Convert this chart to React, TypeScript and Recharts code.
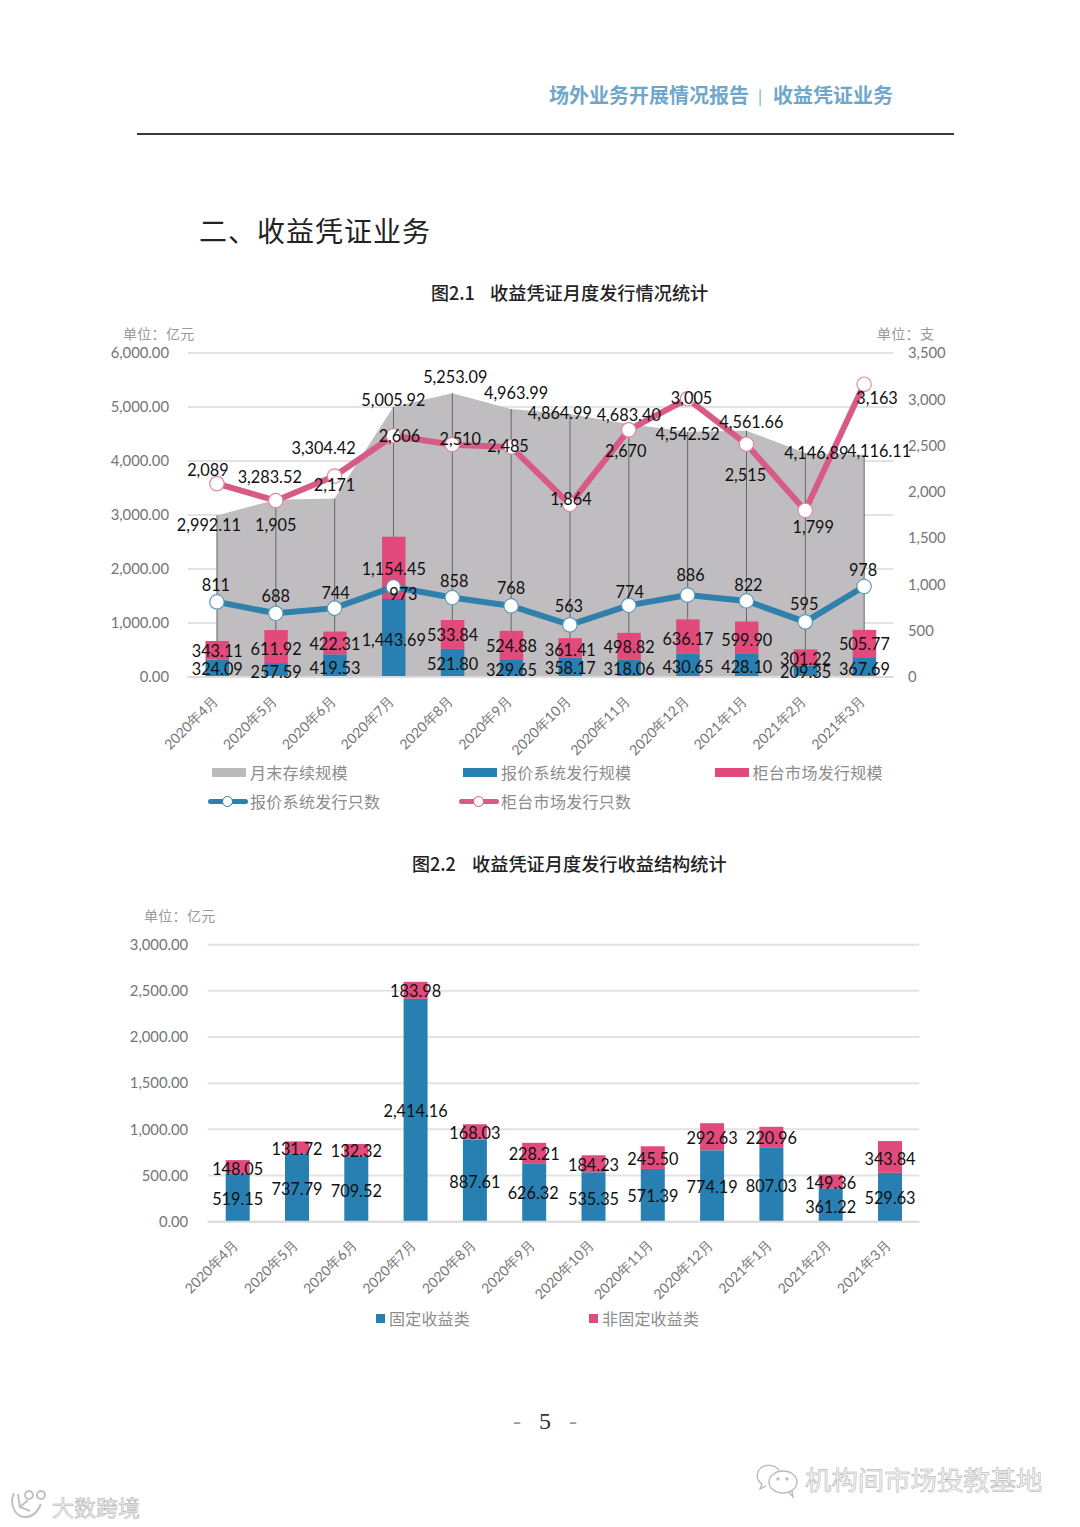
import { Area, Bar, CartesianGrid, ComposedChart, LabelList, Legend, Line, XAxis, YAxis } from 'recharts'

const months = ['2020年4月', '2020年5月', '2020年6月', '2020年7月', '2020年8月', '2020年9月', '2020年10月', '2020年11月', '2020年12月', '2021年1月', '2021年2月', '2021年3月']

// fig 2.1
const stockScale = [2992.11, 3283.52, 3304.42, 5005.92, 5253.09, 4963.99, 4864.99, 4683.4, 4542.52, 4561.66, 4146.89, 4116.11]
const quoteScale = [324.09, 257.59, 419.53, 1443.69, 521.8, 329.65, 358.17, 318.06, 430.65, 428.1, 209.35, 367.69]
const counterScale = [343.11, 611.92, 422.31, 1154.45, 533.84, 524.88, 361.41, 498.82, 636.17, 599.9, 301.22, 505.77]
const quoteCount = [811, 688, 744, 973, 858, 768, 563, 774, 886, 822, 595, 978]
const counterCount = [2089, 1905, 2171, 2606, 2510, 2485, 1864, 2670, 3005, 2515, 1799, 3163]
const leftTicks = [0, 1000, 2000, 3000, 4000, 5000, 6000]
const rightTicks = [0, 500, 1000, 1500, 2000, 2500, 3000, 3500]

// fig 2.2
const fixedIncome = [519.15, 737.79, 709.52, 2414.16, 887.61, 626.32, 535.35, 571.39, 774.19, 807.03, 361.22, 529.63]
const nonFixedIncome = [148.05, 131.72, 132.32, 183.98, 168.03, 228.21, 184.23, 245.5, 292.63, 220.96, 149.36, 343.84]
const yieldTicks = [0, 500, 1000, 1500, 2000, 2500, 3000]

const issueTable = months.map((month, i) => ({
  month,
  stock: stockScale[i],
  quote: quoteScale[i],
  counter: counterScale[i],
  quoteCount: quoteCount[i],
  counterCount: counterCount[i],
}))

const yieldTable = months.map((month, i) => ({
  month,
  fixed: fixedIncome[i],
  nonFixed: nonFixedIncome[i],
}))

// hand placed label nudges, [dx, dy] from the mark, like the source's dragged labels
const stockNudge = [[-8, 9], [-6, -23], [-11, -51], [0, -7], [3, -17], [5, -16], [-10, -2], [0, -10], [0, 2], [5, -9], [11, -1], [15, -4]]
const counterCountNudge = [[-9, -14], [0, 24], [0, 8], [6, 0], [8, -6], [-3, -1], [1, -6], [-3, 21], [4, -1], [-1, 30], [8, 16], [13, 13]]
const quoteCountNudge = [[-1, -17], [0, -18], [1, -16], [10, 7], [2, -17], [0, -18], [-1, -19], [1, -14], [3, -20], [2, -16], [-1, -18], [-1, -16.5]]
const quoteNudge = [[0, 9.5], [0, 8], [0, 13], [0, 40], [0, 15], [0, 10], [0, 10], [0, 9], [0, 13], [0, 13], [0, 6], [0, 11]]
const counterNudge = [[0, 10], [0, 18], [0, 12], [0, 32], [0, 15], [0, 15], [0, 11], [0, 14], [0, 19], [0, 18], [0, 9], [0, 14]]
const fixedNudge = [[0, 25], [0, 35], [0, 34], [0, 112], [0, 42], [-1, 29], [0, 26], [0, 27], [0, 36.5], [0, 38], [0, 18], [0, 25]]
const nonFixedNudge = [[0, 8], [0, 7], [0, 7], [0, 9], [0, 8], [0, 11], [0, 9.5], [0, 12.5], [0, 14.5], [0, 11], [0, 8], [0, 17]]

const BLUE = '#2880b2'
const PINK = '#e24a7b'
const BLUE_LINE = '#2f80ab'
const PINK_LINE = '#d85a87'
const GREY_AREA = '#bfbdc0'
const CJK = '"Noto Sans CJK SC", sans-serif'
const LATIN = 'Lato, sans-serif'

const money = (v: number) => v.toLocaleString('en-US', { minimumFractionDigits: 2, maximumFractionDigits: 2 })
const count = (v: number) => v.toLocaleString('en-US')

function nudged(nudge: number[][], format: (v: number) => string) {
  return (props: any) => {
    const { x, y, width, value, index } = props
    const [dx, dy] = nudge[index]
    return (
      <text x={x + (width || 0) / 2 + dx} y={y + dy} textAnchor="middle" dominantBaseline="central" fontFamily={LATIN} fontSize={16.3} fill="#111">
        {format(value)}
      </text>
    )
  }
}

function slantTick(lift: number) {
  return (props: any) => {
    const { x, y, payload } = props
    return (
      <text transform={`translate(${x - 2},${y + lift}) rotate(-45)`} textAnchor="end" dominantBaseline="central" fontFamily={LATIN} fontSize={14} fill="#757575">
        {payload.value}
      </text>
    )
  }
}

const yTick = { fontFamily: LATIN, fontSize: 14.8, fill: '#757575' }

const issueLegendRows = [
  { name: '月末存续规模', kind: 'box', color: '#bbbbbb', left: 212, top: 452 },
  { name: '报价系统发行规模', kind: 'box', color: BLUE, left: 463, top: 452 },
  { name: '柜台市场发行规模', kind: 'box', color: PINK, left: 714.5, top: 452 },
  { name: '报价系统发行只数', kind: 'line', color: BLUE_LINE, left: 212, top: 481 },
  { name: '柜台市场发行只数', kind: 'line', color: PINK_LINE, left: 463, top: 481 },
]

function IssueLegend() {
  return (
    <div>
      {issueLegendRows.map((row) => (
        <div key={row.name} style={{ position: 'absolute', left: row.left, top: row.top - 12, height: 24, whiteSpace: 'nowrap' }}>
          {row.kind === 'box' ? (
            <div style={{ position: 'absolute', left: 0, top: 8, width: 34, height: 9, background: row.color }} />
          ) : (
            <div>
              <div style={{ position: 'absolute', left: -4, top: 10, width: 40, height: 5, borderRadius: 3, background: row.color }} />
              <div style={{ position: 'absolute', left: 10, top: 6.5, width: 9, height: 9, borderRadius: 6, background: '#fff', border: `1.5px solid ${row.color}` }} />
            </div>
          )}
          <span style={{ position: 'absolute', left: 38, top: 0, lineHeight: '24px', fontFamily: CJK, fontSize: 16, letterSpacing: 0.3, color: '#8c8c8c' }}>{row.name}</span>
        </div>
      ))}
    </div>
  )
}

const yieldLegendRows = [
  { name: '固定收益类', color: BLUE, left: 376 },
  { name: '非固定收益类', color: PINK, left: 589 },
]

function YieldLegend() {
  return (
    <div>
      {yieldLegendRows.map((row) => (
        <div key={row.name} style={{ position: 'absolute', left: row.left, top: 406, height: 24, whiteSpace: 'nowrap' }}>
          <div style={{ position: 'absolute', left: 0, top: 8, width: 8.5, height: 8.5, background: row.color }} />
          <span style={{ position: 'absolute', left: 13, top: 0, lineHeight: '24px', fontFamily: CJK, fontSize: 16, letterSpacing: 0.2, color: '#8c8c8c' }}>{row.name}</span>
        </div>
      ))}
    </div>
  )
}

function IssueChart() {
  return (
    <div style={{ position: 'absolute', left: 0, top: 320 }}>
      <ComposedChart width={1080} height={500} data={issueTable} margin={{ top: 33, right: 126.5, bottom: 83, left: 127.5 }}>
        <CartesianGrid yAxisId="left" vertical={false} stroke="#e3e3e3" strokeWidth={2} />
        <XAxis dataKey="month" axisLine={{ stroke: '#dcdcdc', strokeWidth: 2 }} tickLine={false} tickSize={0} tickMargin={0} interval={0} height={60} tick={slantTick(21)} />
        <XAxis dataKey="month" xAxisId="drop" hide />
        <YAxis yAxisId="left" domain={[0, 6000]} ticks={leftTicks} width={60} axisLine={false} tickLine={false} tickSize={0} tickMargin={18.5} interval={0} tick={yTick} tickFormatter={money} />
        <YAxis yAxisId="right" orientation="right" domain={[0, 3500]} ticks={rightTicks} width={60} axisLine={false} tickLine={false} tickSize={0} tickMargin={14.5} interval={0} tick={yTick} tickFormatter={count} />
        <Legend content={<IssueLegend />} wrapperStyle={{ left: 0, top: 0, bottom: 'auto', width: '100%', height: 0 }} />
        <Area yAxisId="left" dataKey="stock" stroke="none" fill={GREY_AREA} fillOpacity={1} isAnimationActive={false} activeDot={false}>
          <LabelList dataKey="stock" content={nudged(stockNudge, money)} />
        </Area>
        <Bar yAxisId="left" xAxisId="drop" dataKey="stock" barSize={1} fill="#666666" isAnimationActive={false} />
        <Bar yAxisId="left" dataKey="quote" stackId="issue" barSize={23.5} fill={BLUE} isAnimationActive={false}>
          <LabelList dataKey="quote" content={nudged(quoteNudge, money)} />
        </Bar>
        <Bar yAxisId="left" dataKey="counter" stackId="issue" barSize={23.5} fill={PINK} isAnimationActive={false}>
          <LabelList dataKey="counter" content={nudged(counterNudge, money)} />
        </Bar>
        <Line yAxisId="right" dataKey="quoteCount" stroke={BLUE_LINE} strokeWidth={6} dot={{ r: 7.2, fill: '#fff', stroke: '#5d9cbd', strokeWidth: 1.2 }} activeDot={false} isAnimationActive={false}>
          <LabelList dataKey="quoteCount" content={nudged(quoteCountNudge, count)} />
        </Line>
        <Line yAxisId="right" dataKey="counterCount" stroke={PINK_LINE} strokeWidth={6} dot={{ r: 7.2, fill: '#fff', stroke: '#dc8aa6', strokeWidth: 1.2 }} activeDot={false} isAnimationActive={false}>
          <LabelList dataKey="counterCount" content={nudged(counterCountNudge, count)} />
        </Line>
      </ComposedChart>
    </div>
  )
}

function YieldChart() {
  return (
    <div style={{ position: 'absolute', left: 0, top: 900 }}>
      <ComposedChart width={1080} height={440} data={yieldTable} margin={{ top: 44.7, right: 160.7, bottom: 58.3, left: 147.7 }}>
        <CartesianGrid vertical={false} stroke="#e3e3e3" strokeWidth={2} />
        <XAxis dataKey="month" axisLine={{ stroke: '#dcdcdc', strokeWidth: 2 }} tickLine={false} tickSize={0} tickMargin={0} interval={0} height={60} tick={slantTick(20.3)} />
        <YAxis domain={[0, 3000]} ticks={yieldTicks} width={60} axisLine={false} tickLine={false} tickSize={0} tickMargin={19.5} interval={0} tick={yTick} tickFormatter={money} />
        <Legend content={<YieldLegend />} wrapperStyle={{ left: 0, top: 0, bottom: 'auto', width: '100%', height: 0 }} />
        <Bar dataKey="fixed" stackId="yield" barSize={24} fill={BLUE} isAnimationActive={false}>
          <LabelList dataKey="fixed" content={nudged(fixedNudge, money)} />
        </Bar>
        <Bar dataKey="nonFixed" stackId="yield" barSize={24} fill={PINK} isAnimationActive={false}>
          <LabelList dataKey="nonFixed" content={nudged(nonFixedNudge, money)} />
        </Bar>
      </ComposedChart>
    </div>
  )
}

function Caption({ left, top, size, color, weight, spacing, children }: any) {
  return (
    <div style={{ position: 'absolute', left, top: top - size, lineHeight: `${size * 2}px`, fontFamily: CJK, fontSize: size, color, fontWeight: weight || 400, letterSpacing: spacing || 0, whiteSpace: 'pre' }}>
      {children}
    </div>
  )
}

const ghostText = { WebkitTextStroke: '0.5px #a9a9a9' }

export default function App() {
  return (
    <div style={{ position: 'absolute', left: 0, top: 0, width: 1080, height: 1527, overflow: 'hidden', background: '#fff' }}>
      <Caption left={549} top={95} size={20} color="#6ea7c9" weight={700}>场外业务开展情况报告</Caption>
      <Caption left={758} top={96} size={15} color="#6ea7c9">|</Caption>
      <Caption left={773} top={95} size={20} color="#6ea7c9" weight={700}>收益凭证业务</Caption>
      <div style={{ position: 'absolute', left: 137, top: 133, width: 817, height: 2, background: '#3a3a3a' }} />
      <Caption left={199} top={230} size={28} color="#222" spacing={1}>二、收益凭证业务</Caption>

      <Caption left={431} top={292} size={18} color="#222" weight={500}>图2.1 </Caption>
      <Caption left={490} top={292} size={18.2} color="#222" weight={500}>收益凭证月度发行情况统计</Caption>
      <Caption left={123} top={333} size={14} color="#9a9a9a" spacing={0.3}>单位：亿元</Caption>
      <Caption left={877} top={333} size={14} color="#9a9a9a" spacing={0.3}>单位：支</Caption>
      <IssueChart />

      <Caption left={412} top={863} size={18} color="#222" weight={500}>图2.2 </Caption>
      <Caption left={472} top={863} size={18.2} color="#222" weight={500}>收益凭证月度发行收益结构统计</Caption>
      <Caption left={144} top={915} size={14} color="#9a9a9a" spacing={0.3}>单位：亿元</Caption>
      <YieldChart />

      <div style={{ position: 'absolute', left: 495, width: 100, top: 1405, textAlign: 'center', lineHeight: '32px', fontFamily: '"Liberation Serif", serif', fontSize: 24, color: '#333', whiteSpace: 'pre', wordSpacing: 3 }}>
        <span style={{ color: '#999' }}>-</span>{'  5  '}<span style={{ color: '#999' }}>-</span>
      </div>

      <svg style={{ position: 'absolute', left: 0, top: 1480 }} width={60} height={47}>
        <g fill="none" stroke="#c2c2c2" strokeWidth={2}>
          <path d="M14 13 C9 24 15 37 25 37 C33 37 38 31 41 24" />
          <path d="M18 14 L20 28 M28 20 L20 27 L30 31" />
          <circle cx={29} cy={15} r={4} />
          <circle cx={41} cy={15} r={4} />
        </g>
      </svg>
      <svg style={{ position: 'absolute', left: 755, top: 1462 }} width={48} height={38}>
        <g fill="none" stroke="#b8b8b8" strokeWidth={1.3}>
          <path d="M24 8 C18 1 6 2 3 10 C1 15 3 19 7 22 L5 27 L11 24" />
          <ellipse cx={28} cy={20} rx={14} ry={11} />
          <path d="M34 30 L38 35 L37 29" />
          <circle cx={23} cy={17} r={1} />
          <circle cx={32} cy={17} r={1} />
        </g>
      </svg>
      <div style={{ position: 'absolute', left: 805, top: 1463, lineHeight: '32px', fontFamily: CJK, fontSize: 26.4, color: '#f6f6f6', whiteSpace: 'nowrap', ...ghostText }}>机构间市场投教基地</div>
      <div style={{ position: 'absolute', left: 52, top: 1492, lineHeight: '28px', fontFamily: CJK, fontSize: 22, color: '#f2f2f2', whiteSpace: 'nowrap', ...ghostText }}>大数跨境</div>
    </div>
  )
}
